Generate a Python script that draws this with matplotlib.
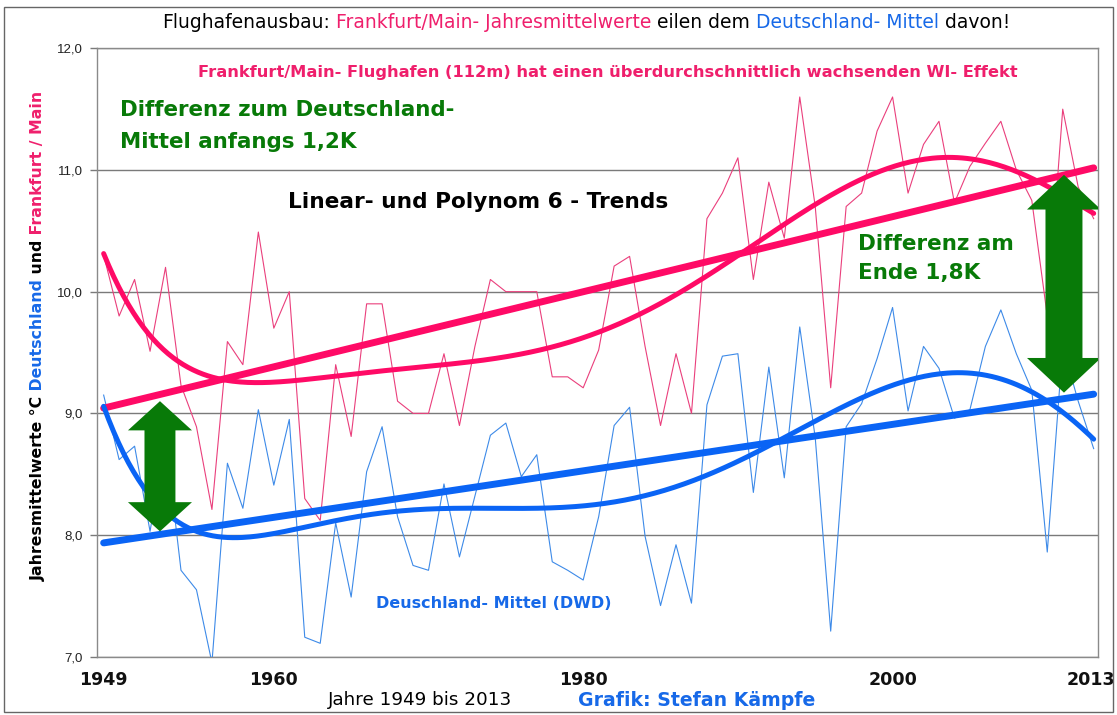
import numpy as np
import matplotlib
matplotlib.use("Agg")
import matplotlib.pyplot as plt
import matplotlib.transforms as mtransforms
from matplotlib.patches import Polygon, Rectangle

# ---------------- data ----------------
years = list(range(1949, 2014))
frankfurt = [10.30, 9.80, 10.10, 9.51, 10.20, 9.23, 8.89, 8.21, 9.59, 9.40,
             10.49, 9.70, 10.00, 8.30, 8.12, 9.40, 8.81, 9.90, 9.90, 9.10,
             9.00, 9.00, 9.49, 8.90, 9.55, 10.10, 10.00, 10.00, 10.00, 9.30,
             9.30, 9.21, 9.52, 10.21, 10.29, 9.55, 8.90, 9.49, 9.00, 10.60,
             10.81, 11.10, 10.10, 10.90, 10.44, 11.60, 10.70, 9.21, 10.70, 10.81,
             11.32, 11.60, 10.81, 11.21, 11.40, 10.73, 11.03, 11.22, 11.40, 11.00,
             10.75, 9.80, 11.50, 10.86, 10.60]
deutschland = [9.15, 8.62, 8.73, 8.03, 8.80, 7.71, 7.55, 6.95, 8.59, 8.22,
               9.03, 8.41, 8.95, 7.16, 7.11, 8.10, 7.49, 8.52, 8.89, 8.15,
               7.75, 7.71, 8.42, 7.82, 8.32, 8.82, 8.92, 8.48, 8.66, 7.78,
               7.71, 7.63, 8.15, 8.90, 9.05, 7.99, 7.42, 7.92, 7.44, 9.07,
               9.47, 9.49, 8.35, 9.38, 8.47, 9.71, 8.80, 7.21, 8.89, 9.08,
               9.45, 9.87, 9.02, 9.55, 9.37, 8.96, 9.03, 9.55, 9.85, 9.49,
               9.19, 7.86, 9.55, 9.10, 8.71]
x_ticks = [1949, 1960, 1980, 2000, 2013]
y_ticks = [7.0, 8.0, 9.0, 10.0, 11.0, 12.0]
y_tick_labels = ["7,0", "8,0", "9,0", "10,0", "11,0", "12,0"]

# ---------------- style ----------------
W, H = 1117, 715
PINK = "#ff0a66"
PINK_THIN = "#ea3f7c"
PINK_TXT = "#ef1f6c"
BLUE = "#0a64f5"
BLUE_THIN = "#3d8ae8"
BLUE_TXT = "#1769e8"
GREEN = "#087a08"
GRID = "#7a7a7a"
TXT_FONT = ["DejaVu Sans"]
TICK_FONT = ["Liberation Sans", "DejaVu Sans"]

plt.rcParams["font.family"] = TXT_FONT

fig = plt.figure(figsize=(W / 100, H / 100), dpi=100)
fig.patch.set_facecolor("white")


def fx(px):
    return px / W


def fy(py):
    return 1 - py / H


ax = fig.add_axes([fx(97), fy(656.7), fx(1098) - fx(97), fy(48.3) - fy(656.7)])

yrs = np.array(years, dtype=float)
fr = np.array(frankfurt)
de = np.array(deutschland)

# thin raw series
ax.plot(yrs, fr, color=PINK_THIN, lw=0.8, zorder=3)
ax.plot(yrs, de, color=BLUE_THIN, lw=0.8, zorder=3)

# trends computed from data
xs = (yrs - 1981.0) / 32.0
fine = np.linspace(yrs[0], yrs[-1], 400)
fine_s = (fine - 1981.0) / 32.0
for series, col in ((fr, PINK), (de, BLUE)):
    lin = np.polyfit(yrs, series, 1)
    ax.plot(fine, np.polyval(lin, fine), color=col, lw=5.0, zorder=4,
            solid_capstyle="round")
    poly = np.polyfit(xs, series, 6)
    ax.plot(fine, np.polyval(poly, fine_s), color=col, lw=3.6, zorder=4,
            solid_capstyle="round")

ax.set_xlim(1948.57, 2013.28)
ax.set_ylim(7.0, 12.0)
ax.set_yticks(y_ticks)
ax.set_yticklabels(y_tick_labels, fontsize=9.5, color="#222222", family=TICK_FONT)
ax.set_xticks(x_ticks)
ax.set_xticklabels([str(v) for v in x_ticks], fontsize=12.6, fontweight="bold",
                   color="#111111")
ax.tick_params(axis="x", length=0, pad=10)
ax.tick_params(axis="y", length=5, width=1, color=GRID, pad=5, direction="out")
ax.grid(axis="y", color=GRID, lw=1.0, zorder=1)
ax.set_axisbelow(True)
for s in ax.spines.values():
    s.set_color("#8a8a8a")
    s.set_linewidth(1.0)

# nudge the last year label inside the frame
last = ax.get_xticklabels()[-1]
last.set_transform(last.get_transform() +
                   mtransforms.ScaledTranslation(-3 / 100, 0, fig.dpi_scale_trans))


# green double arrows (annotation shapes, data coordinates)
def double_arrow(xc, y0, y1, head_w, shaft_w, head_h):
    pts = [(xc, y1), (xc + head_w / 2, y1 - head_h), (xc + shaft_w / 2, y1 - head_h),
           (xc + shaft_w / 2, y0 + head_h), (xc + head_w / 2, y0 + head_h), (xc, y0),
           (xc - head_w / 2, y0 + head_h), (xc - shaft_w / 2, y0 + head_h),
           (xc - shaft_w / 2, y1 - head_h), (xc - head_w / 2, y1 - head_h)]
    ax.add_patch(Polygon(pts, closed=True, facecolor=GREEN, edgecolor="none", zorder=5))


double_arrow(1952.64, 8.03, 9.10, 4.14, 2.0, 0.24)
double_arrow(2011.08, 9.17, 10.96, 4.78, 2.39, 0.285)


# ---------------- texts ----------------
def ftext(x, y, s, **kw):
    kw.setdefault("transform", fig.transFigure)
    kw.setdefault("zorder", 6)
    return ax.text(fx(x), fy(y), s, **kw)


ftext(120, 110, "Differenz zum Deutschland-", fontsize=15.4, fontweight="bold",
      color=GREEN, ha="left", va="center")
ftext(120, 142, "Mittel anfangs 1,2K", fontsize=15.4, fontweight="bold",
      color=GREEN, ha="left", va="center")
ftext(858, 244, "Differenz am", fontsize=15.5, fontweight="bold", color=GREEN,
      ha="left", va="center")
ftext(858, 273, "Ende 1,8K", fontsize=15.5, fontweight="bold", color=GREEN,
      ha="left", va="center")
ftext(478, 202, "Linear- und Polynom 6 - Trends", fontsize=15.6, fontweight="bold",
      color="black", ha="center", va="center")
ftext(608, 72,
      "Frankfurt/Main- Flughafen (112m) hat einen überdurchschnittlich wachsenden WI- Effekt",
      fontsize=11.7, fontweight="bold", color=PINK_TXT, ha="center", va="center")
ftext(494, 603, "Deuschland- Mittel (DWD)", fontsize=11.5, fontweight="bold",
      color=BLUE_TXT, ha="center", va="center")

fig.text(fx(420), fy(700), "Jahre 1949 bis 2013", fontsize=13.2, color="black",
         ha="center", va="center")
fig.text(fx(697), fy(700), "Grafik: Stefan Kämpfe", fontsize=13.6, fontweight="bold",
         color=BLUE_TXT, ha="center", va="center")

# multi-coloured title and y label
title_parts = [("Flughafenausbau:", "black"), (" Frankfurt/Main- Jahresmittelwerte", PINK_TXT),
               (" eilen dem", "black"), (" Deutschland- Mittel", BLUE_TXT), (" davon!", "black")]
ylabel_parts = [("Jahresmittelwerte °C", "black"), (" Deutschland", BLUE_TXT),
                (" und", "black"), (" Frankfurt / Main", PINK_TXT)]

renderer = fig.canvas.get_renderer()


def chain(parts, rotation, size, weight):
    objs = []
    first = fig.text(0, 0, parts[0][0], color=parts[0][1], fontsize=size,
                     fontweight=weight, rotation=rotation, ha="left", va="bottom")
    objs.append(first)
    prev = first
    for s, c in parts[1:]:
        xy = (1, 0) if rotation == 0 else (0, 1)
        t = fig.add_artist(matplotlib.text.Annotation(
            s, xy=xy, xycoords=prev, color=c, fontsize=size, fontweight=weight,
            rotation=rotation, ha="left", va="bottom"))
        objs.append(t)
        prev = t
    total = sum((o.get_window_extent(renderer).width if rotation == 0
                 else o.get_window_extent(renderer).height) for o in objs)
    return first, total


t_first, tw = chain(title_parts, 0, 13.5, "normal")
h0 = t_first.get_window_extent(renderer).height
t_first.set_position((fx(586 - tw / 2), fy(23) - (h0 / 2) / H))

y_first, th = chain(ylabel_parts, 90, 11.3, "bold")
w0 = y_first.get_window_extent(renderer).width
y_first.set_position((fx(38) - (w0 / 2) / W, fy(336 + th / 2)))

# outer frame
fig.add_artist(Rectangle((fx(4), fy(712)), fx(1113) - fx(4), fy(7) - fy(712),
                         transform=fig.transFigure, fill=False, edgecolor="#666666",
                         lw=1.0))

fig.savefig("out.png", dpi=100, facecolor="white")
